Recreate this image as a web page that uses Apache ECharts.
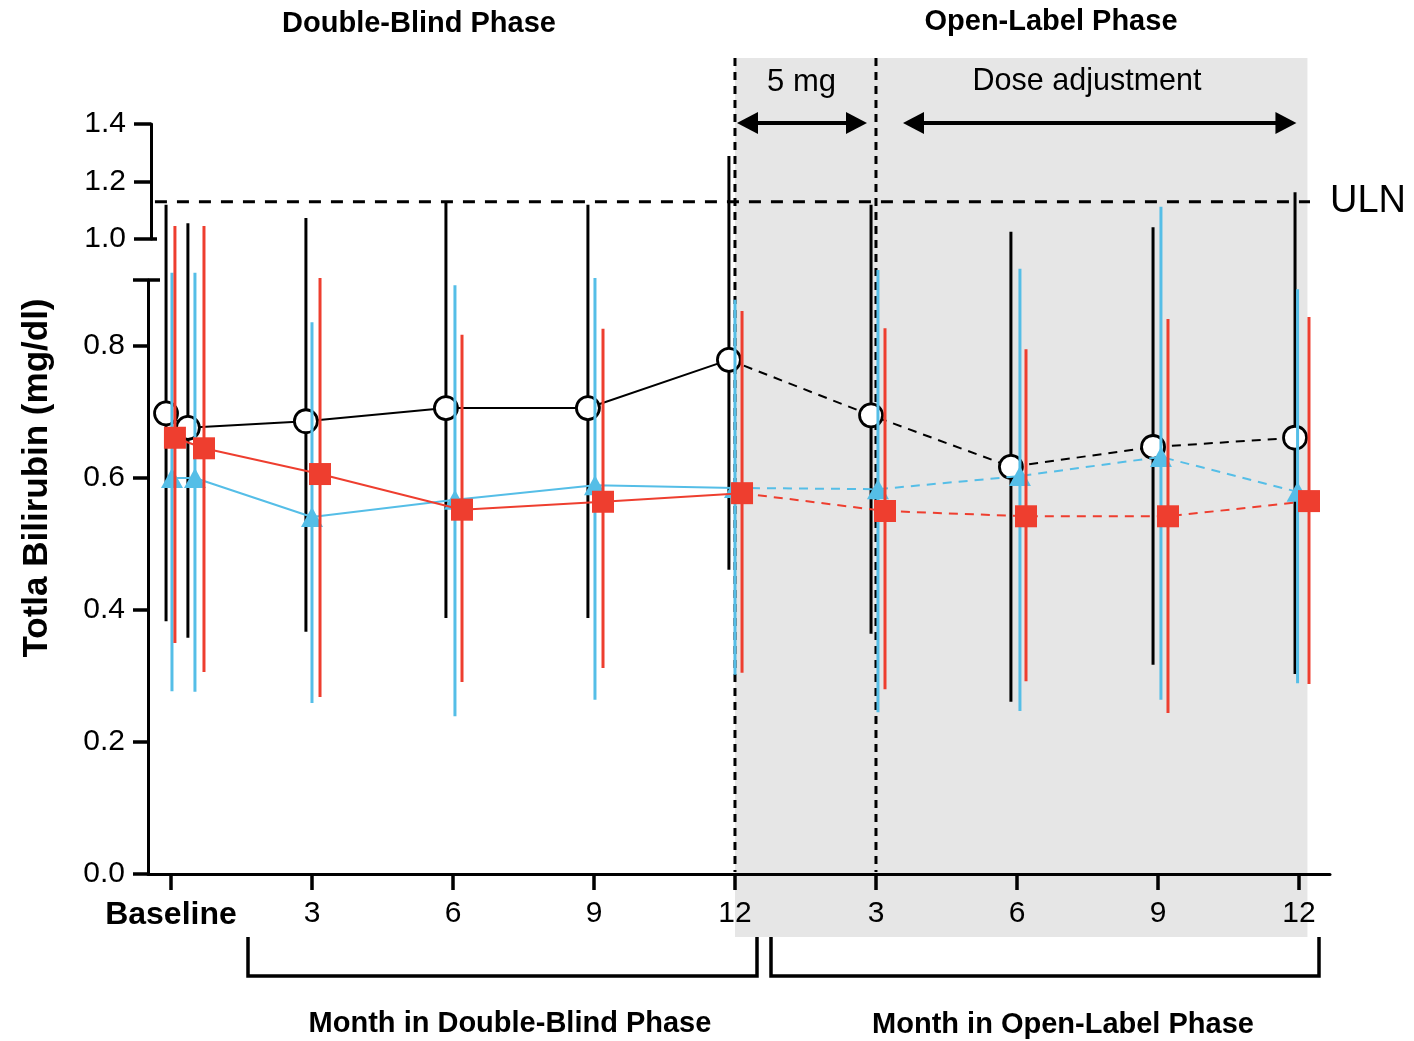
<!DOCTYPE html>
<html>
<head>
<meta charset="utf-8">
<title>Total bilirubin</title>
<script src="https://cdn.jsdelivr.net/npm/echarts@6.0.0/dist/echarts.min.js"></script>
<style>
  html, body { margin: 0; padding: 0; background: #fff; }
  #chart { width: 1414px; height: 1041px; }
</style>
</head>
<body>
<div id="chart"></div>
<script>
// x slots: 0 = Baseline, 1-4 = DB months 3/6/9/12, 5-8 = OL months 3/6/9/12
const xLabels = ['Baseline', '3', '6', '9', '12', '3', '6', '9', '12'];
const xTicks = [0, 1, 2, 3, 4, 5, 6, 7, 8];
const yTicksLow = [0, 0.2, 0.4, 0.6, 0.8];
const yTicksHigh = [1.0, 1.2, 1.4];
const uln = 1.13;

// x position of every point in slot units (two baseline points, then one per visit)
const blackX = [-0.035, 0.12, 0.957, 1.95, 2.957, 3.957, 4.965, 5.957, 6.965, 7.972];
const blackMean = [0.698, 0.676, 0.686, 0.706, 0.706, 0.779, 0.695, 0.617, 0.647, 0.661];
const blackLow = [0.383, 0.358, 0.367, 0.388, 0.388, 0.461, 0.364, 0.261, 0.317, 0.303];
const blackHigh = [1.014, 0.986, 0.994, 1.017, 1.014, 1.088, 1.014, 0.973, 0.980, 1.033];

const blueX = [0.007, 0.17, 1.0, 2.014, 3.007, 4.0, 5.014, 6.021, 7.021, 7.99];
const blueMean = [0.600, 0.600, 0.541, 0.567, 0.589, 0.585, 0.583, 0.603, 0.632, 0.579];
const blueLow = [0.277, 0.276, 0.259, 0.239, 0.264, 0.302, 0.245, 0.247, 0.264, 0.289];
const blueHigh = [0.911, 0.911, 0.836, 0.892, 0.903, 0.870, 0.915, 0.917, 1.011, 0.886];

const redX = [0.028, 0.234, 1.057, 2.064, 3.064, 4.05, 5.064, 6.064, 7.071, 8.071];
const redMean = [0.661, 0.645, 0.606, 0.552, 0.564, 0.577, 0.550, 0.542, 0.542, 0.565];
const redLow = [0.350, 0.306, 0.268, 0.291, 0.312, 0.305, 0.280, 0.292, 0.244, 0.288];
const redHigh = [0.982, 0.982, 0.903, 0.817, 0.826, 0.853, 0.827, 0.795, 0.841, 0.844];

const FONT = '"Liberation Sans", Arial, Helvetica, sans-serif';
const BLUE = '#55bee7';
const RED = '#ee3e2f';

const chart = echarts.init(document.getElementById('chart'));

// error bars, solid DB line, dashed OL line, markers (z keeps markers above their lines)
function group(color, xs, mean, low, high, marker, z) {
  const pts = xs.map((x, i) => [x, mean[i]]);
  const bars = xs.map((x, i) => [x, low[i], high[i]]);
  return [
    {
      type: 'custom',
      z: z,
      data: bars,
      clip: false,
      silent: true,
      encode: { x: 0, y: [1, 2] },
      renderItem: (params, api) => {
        const a = api.coord([api.value(0), api.value(1)]);
        const b = api.coord([api.value(0), api.value(2)]);
        return {
          type: 'line',
          shape: { x1: a[0], y1: a[1], x2: b[0], y2: b[1] },
          style: { stroke: color, lineWidth: 3 }
        };
      }
    },
    {
      type: 'line',
      z: z,
      data: pts.slice(0, 6),
      symbol: 'none',
      silent: true,
      lineStyle: { color: color, width: 2 }
    },
    {
      type: 'line',
      z: z,
      data: pts.slice(5),
      symbol: 'none',
      silent: true,
      lineStyle: { color: color, width: 2, type: [9, 7] }
    },
    Object.assign({ type: 'scatter', z: z + 1, data: pts, silent: true }, marker)
  ];
}

const tickLabel = {
  fontFamily: FONT,
  fontSize: 30,
  color: '#000'
};

const option = {
  animation: false,
  grid: [
    { left: 148, right: 84, top: 280, bottom: 167, outerBoundsMode: 'none' },
    { left: 151, right: 84, top: 124, height: 115, outerBoundsMode: 'none' }
  ],
  xAxis: [
    {
      type: 'value',
      gridIndex: 0,
      min: -0.163,
      max: 8.22,
      splitLine: { show: false },
      axisLine: { onZero: false, lineStyle: { color: '#000', width: 3 } },
      axisTick: { customValues: xTicks, length: 16, lineStyle: { color: '#000', width: 3.5 } },
      axisLabel: Object.assign({
        customValues: xTicks,
        margin: 25,
        formatter: (v) => {
          const s = xLabels[Math.round(v)];
          return s === 'Baseline' ? '{b|' + s + '}' : s;
        },
        rich: { b: { fontFamily: FONT, fontSize: 32, fontWeight: 'bold', color: '#000' } }
      }, tickLabel)
    },
    { type: 'value', gridIndex: 1, min: -0.163, max: 8.22, show: false }
  ],
  yAxis: [
    {
      type: 'value',
      gridIndex: 0,
      min: 0,
      max: 0.9,
      splitLine: { show: false },
      axisLine: { show: true, onZero: false, lineStyle: { color: '#000', width: 3 } },
      axisTick: { show: true, customValues: yTicksLow.concat([0.9]), length: 15, lineStyle: { color: '#000', width: 3.5 } },
      axisLabel: Object.assign({
        customValues: yTicksLow,
        margin: 23,
        formatter: (v) => v.toFixed(1)
      }, tickLabel)
    },
    {
      type: 'value',
      gridIndex: 1,
      min: 1.0,
      max: 1.4,
      splitLine: { show: false },
      axisLine: { show: true, onZero: false, lineStyle: { color: '#000', width: 3 } },
      axisTick: { show: true, customValues: yTicksHigh, length: 17, lineStyle: { color: '#000', width: 3.5 } },
      axisLabel: Object.assign({
        customValues: yTicksHigh,
        margin: 25,
        formatter: (v) => v.toFixed(1)
      }, tickLabel)
    }
  ],
  series: [].concat(
    group('#000', blackX, blackMean, blackLow, blackHigh, {
      symbol: 'circle', symbolSize: 23,
      itemStyle: { color: '#fff', borderColor: '#000', borderWidth: 2.8, opacity: 1 }
    }, 2),
    group(BLUE, blueX, blueMean, blueLow, blueHigh, {
      symbol: 'triangle', symbolSize: [22, 20],
      itemStyle: { color: BLUE, opacity: 1 }
    }, 4),
    group(RED, redX, redMean, redLow, redHigh, {
      symbol: 'rect', symbolSize: 22,
      itemStyle: { color: RED, opacity: 1 }
    }, 6),
    [{
      type: 'line',
      xAxisIndex: 1,
      yAxisIndex: 1,
      data: [[-0.135, uln], [8.078, uln]],
      symbol: 'none',
      silent: true,
      lineStyle: { color: '#000', width: 3, type: [12, 10] },
      endLabel: { show: true, formatter: 'ULN', fontFamily: FONT, fontSize: 38, color: '#000', distance: 20 }
    }]
  )
};

chart.setOption(option);

// annotations placed against the x scale
const px = (x) => chart.convertToPixel({ xAxisIndex: 0 }, x);
const dbEnd = px(4);      // end of double-blind / start of open-label
const fixEnd = px(5);     // end of fixed 5 mg period
const shadeEnd = px(8.06);
const yTop08 = chart.convertToPixel({ yAxisIndex: 0 }, 0.9);
const y10 = chart.convertToPixel({ yAxisIndex: 1 }, 1.0);

function text(str, x, y, size, bold, rot) {
  return {
    type: 'text', x: x, y: y, rotation: rot || 0, z: 60,
    style: {
      text: str, fontFamily: FONT, fontSize: size, fontWeight: bold ? 'bold' : 'normal',
      fill: '#000', align: 'center', verticalAlign: 'middle'
    }
  };
}

function arrow(x1, x2, y) {
  const head = 21, half = 11;
  return [
    { type: 'line', z: 60, shape: { x1: x1 + head - 2, y1: y, x2: x2 - head + 2, y2: y }, style: { stroke: '#000', lineWidth: 4 } },
    { type: 'polygon', z: 60, shape: { points: [[x1, y], [x1 + head, y - half], [x1 + head, y + half]] }, style: { fill: '#000' } },
    { type: 'polygon', z: 60, shape: { points: [[x2, y], [x2 - head, y - half], [x2 - head, y + half]] }, style: { fill: '#000' } }
  ];
}

function vdash(x) {
  return { type: 'line', z: 1, shape: { x1: x, y1: 58, x2: x, y2: 872 }, style: { stroke: '#000', lineWidth: 3, lineDash: [8, 6] } };
}

function bracket(x1, x2) {
  return {
    type: 'polyline', z: 60,
    shape: { points: [[x1, 937], [x1, 976], [x2, 976], [x2, 937]] },
    style: { stroke: '#000', lineWidth: 3.5, fill: null }
  };
}

chart.setOption({
  graphic: [
    { type: 'rect', z: -1, shape: { x: dbEnd, y: 58, width: shadeEnd - dbEnd, height: 879 }, style: { fill: '#e6e6e6' } },
    vdash(dbEnd),
    vdash(fixEnd),
    // caps at the axis break
    { type: 'line', z: 60, shape: { x1: 148, y1: yTop08, x2: 160, y2: yTop08 }, style: { stroke: '#000', lineWidth: 3.5 } },
    { type: 'line', z: 60, shape: { x1: 151, y1: y10, x2: 157, y2: y10 }, style: { stroke: '#000', lineWidth: 3.5 } },
    text('Double-Blind Phase', 419, 24, 29, true),
    text('Open-Label Phase', 1051, 22, 29, true),
    text('5 mg', (dbEnd + fixEnd) / 2 - 4, 82, 31, false),
    text('Dose adjustment', 1087, 82, 30.5, false),
    text('Totla Bilirubin (mg/dl)', 37, 478, 35, true, Math.PI / 2),
    text('Month in Double-Blind Phase', 510, 1024, 29, true),
    text('Month in Open-Label Phase', 1063, 1025, 29, true),
    bracket(248, 757),
    bracket(771, 1319)
  ].concat(arrow(dbEnd + 2, fixEnd - 9, 123), arrow(fixEnd + 27, shadeEnd - 11, 123))
});

window.addEventListener('resize', () => chart.resize());
</script>
</body>
</html>
